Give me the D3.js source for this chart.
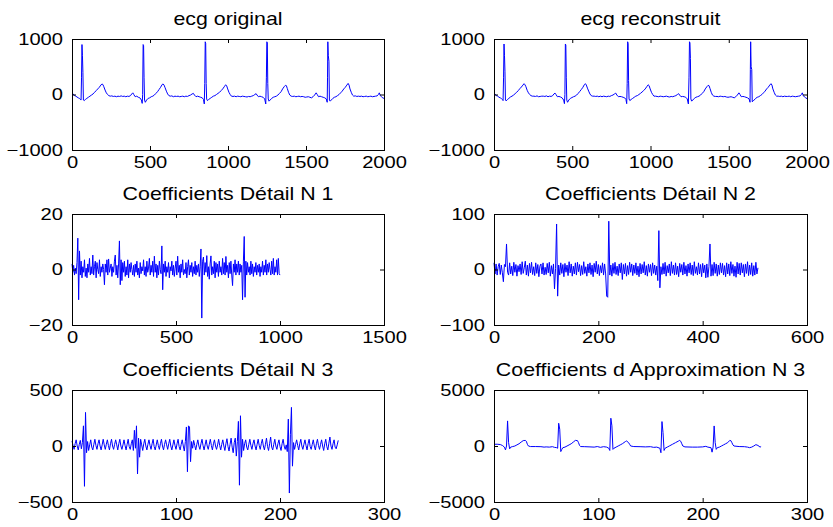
<!DOCTYPE html>
<html><head><meta charset="utf-8">
<script src="https://cdn.jsdelivr.net/npm/d3@7"></script>
<style>
body{margin:0;background:#fff}
svg{display:block}
text{font-family:"Liberation Sans",Arial,Helvetica,sans-serif;fill:#000}
</style>
</head><body>
<svg id="chart" width="833" height="527"></svg>
<script>
// ---------- DATA ----------
const titles = ["ecg original","ecg reconstruit","Coefficients Détail N 1","Coefficients Détail N 2","Coefficients Détail N 3","Coefficients d Approximation N 3"];

const ecgXTicks=[0,500,1000,1500,2000], ecgYTicks=[-1000,0,1000];
const d1XTicks=[0,500,1000,1500], d1YTicks=[-20,0,20];
const d2XTicks=[0,200,400,600], d2YTicks=[-100,0,100];
const d3XTicks=[0,100,200,300], d3YTicks=[-500,0,500];
const a3XTicks=[0,100,200,300], a3YTicks=[-5000,0,5000];

// ECG original [sample, value]
const ecgOriginal=[[0,20],[8,10],[16,-20],[24,-30],[32,-45],[40,-60],[48,-70],[54,-90],[58,-100],[61,300],[64,900],[67,700],[70,400],[73,-100],[78,-110],[86,-90],[95,-70],[105,-50],[115,-30],[125,-10],[135,10],[145,40],[155,70],[165,100],[175,130],[185,170],[192,190],[198,180],[204,140],[212,80],[220,30],[228,0],[236,-20],[245,-30],[255,-25],[265,-35],[275,-30],[285,-40],[295,-30],[305,-35],[315,-25],[325,-35],[335,-30],[345,-40],[355,-30],[365,-35],[375,-20],[383,10],[390,30],[396,0],[405,-40],[415,-30],[425,-50],[435,-60],[445,-100],[450,-160],[453,0],[456,900],[459,880],[462,300],[465,-100],[470,-140],[478,-100],[488,-70],[498,-60],[508,-40],[518,-30],[528,-10],[538,20],[548,50],[558,90],[568,130],[578,180],[584,190],[590,170],[597,120],[605,60],[613,10],[621,-20],[630,-30],[640,-25],[650,-40],[660,-30],[670,-35],[680,-30],[690,-40],[700,-35],[710,-30],[720,-40],[730,-30],[740,-35],[750,-20],[760,-10],[770,10],[778,20],[785,-10],[795,-40],[805,-30],[815,-40],[825,-50],[835,-60],[843,-90],[848,-170],[851,200],[854,950],[857,920],[860,200],[863,-80],[868,-110],[876,-90],[886,-70],[896,-50],[906,-30],[916,-20],[926,0],[936,20],[946,40],[956,70],[966,100],[976,140],[985,175],[991,160],[998,100],[1006,40],[1014,0],[1022,-30],[1032,-35],[1042,-30],[1052,-40],[1062,-30],[1072,-35],[1082,-40],[1092,-30],[1102,-35],[1112,-40],[1122,-45],[1132,-35],[1142,-40],[1152,-30],[1162,-20],[1172,0],[1180,15],[1186,-10],[1195,-40],[1205,-30],[1215,-40],[1225,-50],[1235,-80],[1242,-170],[1246,300],[1249,950],[1252,930],[1255,200],[1258,-80],[1263,-120],[1270,-100],[1280,-70],[1290,-50],[1300,-40],[1310,-30],[1320,-10],[1330,20],[1340,50],[1350,100],[1360,140],[1368,165],[1374,160],[1380,110],[1388,40],[1396,-10],[1405,-30],[1415,-35],[1425,-30],[1435,-40],[1445,-35],[1455,-30],[1465,-40],[1475,-35],[1485,-40],[1495,-50],[1505,-45],[1515,-40],[1525,-50],[1535,-60],[1545,-40],[1555,-10],[1565,30],[1572,0],[1580,-40],[1590,-30],[1600,-40],[1610,-50],[1620,-60],[1630,-80],[1636,-140],[1638,300],[1640,950],[1643,700],[1647,600],[1650,-100],[1655,-120],[1662,-100],[1672,-70],[1682,-50],[1692,-40],[1702,-20],[1712,0],[1722,30],[1732,60],[1742,100],[1752,130],[1762,170],[1770,200],[1776,170],[1782,100],[1790,40],[1798,-10],[1806,-30],[1816,-25],[1826,-35],[1836,-30],[1846,-35],[1856,-30],[1866,-40],[1876,-35],[1886,-30],[1896,-40],[1906,-35],[1916,-30],[1926,-40],[1936,-35],[1946,-30],[1956,-25],[1964,0],[1970,30],[1976,-20],[1984,-40],[1992,-60],[2000,-70]];

// ECG reconstructed [sample, value]
const ecgReconstruit=[[0,20],[8,5],[16,-25],[24,-30],[32,-50],[40,-60],[48,-75],[54,-90],[58,-110],[61,300],[64,910],[67,700],[70,420],[73,-100],[78,-115],[86,-90],[95,-70],[105,-45],[115,-30],[125,-10],[135,15],[145,40],[155,70],[165,105],[175,135],[185,170],[192,195],[198,175],[204,140],[212,75],[220,30],[228,0],[236,-20],[245,-30],[255,-30],[265,-35],[275,-25],[285,-40],[295,-35],[305,-30],[315,-30],[325,-35],[335,-25],[345,-40],[355,-30],[365,-35],[375,-20],[383,10],[390,25],[396,0],[405,-40],[415,-35],[425,-45],[435,-60],[445,-100],[450,-165],[453,0],[456,910],[459,890],[462,300],[465,-100],[470,-140],[478,-100],[488,-70],[498,-55],[508,-40],[518,-30],[528,-10],[538,20],[548,55],[558,90],[568,130],[578,180],[584,195],[590,170],[597,115],[605,60],[613,10],[621,-20],[630,-30],[640,-30],[650,-35],[660,-30],[670,-40],[680,-30],[690,-40],[700,-30],[710,-35],[720,-40],[730,-30],[740,-35],[750,-20],[760,-10],[770,10],[778,25],[785,-10],[795,-40],[805,-35],[815,-40],[825,-50],[835,-60],[843,-90],[848,-165],[851,200],[854,950],[857,920],[860,250],[863,-80],[868,-110],[876,-90],[886,-70],[896,-50],[906,-30],[916,-20],[926,0],[936,20],[946,45],[956,70],[966,100],[976,140],[985,175],[991,160],[998,100],[1006,40],[1014,0],[1022,-30],[1032,-30],[1042,-35],[1052,-40],[1062,-30],[1072,-35],[1082,-40],[1092,-35],[1102,-30],[1112,-40],[1122,-45],[1132,-35],[1142,-40],[1152,-30],[1162,-20],[1172,0],[1180,15],[1186,-10],[1195,-40],[1205,-35],[1215,-40],[1225,-50],[1235,-80],[1242,-170],[1246,300],[1249,950],[1252,930],[1255,650],[1258,-80],[1263,-120],[1270,-100],[1280,-70],[1290,-50],[1300,-40],[1310,-30],[1320,-10],[1330,20],[1340,50],[1350,100],[1360,140],[1368,165],[1374,160],[1380,110],[1388,40],[1396,-10],[1405,-30],[1415,-35],[1425,-35],[1435,-40],[1445,-30],[1455,-35],[1465,-40],[1475,-35],[1485,-45],[1495,-50],[1505,-45],[1515,-40],[1525,-50],[1535,-60],[1545,-40],[1555,-10],[1565,30],[1572,0],[1580,-40],[1590,-35],[1600,-40],[1610,-50],[1620,-60],[1630,-80],[1636,-140],[1638,450],[1640,950],[1643,500],[1647,450],[1650,-130],[1655,-120],[1662,-100],[1672,-70],[1682,-50],[1692,-40],[1702,-20],[1712,0],[1722,30],[1732,60],[1742,100],[1752,130],[1762,170],[1770,195],[1776,170],[1782,100],[1790,40],[1798,-10],[1806,-30],[1816,-30],[1826,-35],[1836,-30],[1846,-40],[1856,-30],[1866,-35],[1876,-35],[1886,-30],[1896,-40],[1906,-30],[1916,-35],[1926,-40],[1936,-35],[1946,-30],[1956,-25],[1964,0],[1970,30],[1976,-20],[1984,-45],[1992,-60],[2000,-75]];

// Detail N1 (one value every d1Step samples)
const d1Step=4;
const detail1=[2,-1,1.5,-2,0.5,-1.5,2.5,11.3,-10.9,6.7,-2,3,-3,1,-1,3.5,-2.5,0.5,-3,2,-1,4,-2,1,-1.5,
5.2,-2,1,3,-3,2.5,0,-1.5,3.5,-2.5,1,-1,2,0,-5.5,2,-1,3.5,-2,3.8,-1,0.5,2,-2.5,1,
-1,3,5.2,-2,1.5,-3,2,10.3,-5.5,3.5,-4,2.5,-1,3,-2.5,1,-2,3.5,-3,2,-1,2.5,0,-2,1.5,
-2.5,2,-1,3,-2,0.5,-3,2.5,-1.5,1,-0.5,3.5,-2,1,-2.5,3,-1,0.5,4,-2,1.5,-1,3,-2.5,4.8,
-1,2,-3,1.5,-2,3,0,-1.5,8.5,-7.3,2,-1,3,-2.5,1,-1,2.5,-3,1,-0.5,3,-2,1.5,-2.5,0.5,
3,-2,4.8,-1,1.5,-3,2,-1,3.5,-2,0,-1.5,2.5,-3,1,3.5,-2,1.5,-1,2.5,-2.5,1,-1.5,3,-2,
1.5,-1,2,-2.5,1,7.4,-17.5,3,4.5,-2,2.5,-1,5,-2.5,1,-3.5,2,4.9,-2,1,-1.5,3,-3,2.5,-1,
2,-2.5,3,-1,1,-2,4,-1.5,2.5,-2,4.7,-1,1.5,-3,2.5,-1.5,3,-2,-5.8,2,-1,3.5,-2,2,-1,
3,-2,2,-1,1.5,-10.9,3,11.9,-10,3,-2,2.5,-1,1,-2,3,-1.5,2,-2.5,1,-1,2.5,-2,1.5,-1,
2,-2.5,1,-1,3,-2,1.5,-1,3.5,-2,2,-1,2.5,0,-2,3,-1.5,4,-2,1,-1,3.5,-2,4,-1.5,
-2];

// Detail N2 (one value every d2Step samples)
const d2Step=2;
const detail2=[12,-8,10,-10,5,11,-9,8,-6,-22,9,5,46,-5,-10,12,-8,6,-11,13,-5,9,-12,7,-4,
10,-9,14,-7,3,15,-10,8,-12,11,-6,13,-9,5,-11,12,-7,9,-13,6,10,-8,12,-10,4,
-9,11,-6,13,-12,7,-8,10,-35,2,82,-48,8,-10,12,-7,9,-13,11,-5,8,-11,14,-6,10,
-12,6,-8,12,-10,13,-4,9,-11,7,-9,14,-7,5,-12,10,-6,12,-9,8,-13,11,-5,15,-8,
9,-11,7,-6,12,-10,10,-8,-48,-50,87,-10,8,-12,11,-7,13,-9,6,-11,10,-6,12,-18,9,
-8,11,-12,7,-9,13,-5,10,-11,8,-7,12,-10,6,-13,11,-8,9,-6,14,-10,7,-12,10,-5,
9,-11,12,-7,8,-10,6,-20,70,-33,5,-9,11,-8,13,-12,7,-6,10,-11,14,-7,8,-10,12,
-9,6,-13,11,-5,9,-10,13,-8,7,-12,10,-6,12,-9,8,-11,14,-7,5,-10,12,-8,9,-13,
11,-6,8,-15,10,-14,5,46,-12,9,-11,13,-7,10,-12,8,-9,12,-6,11,-10,7,-13,12,-8,
10,-11,14,-7,9,-12,6,-14,13,-8,11,-10,12,-6,9,-13,10,-7,14,-11,8,-9,12,-12,7,
-10,13,-8,3];

// Detail N3 (one value per sample)
const detail3=[45,5,-30,20,55,0,-35,15,50,-25,
30,180,-360,300,-60,40,-40,10,55,-10,
-35,15,60,5,-30,20,55,0,-35,10,
60,10,-30,15,55,5,-35,20,60,0,
-30,15,55,10,-35,20,60,0,-30,10,
55,5,-35,15,60,-5,-30,20,55,-40,
140,-20,180,-250,70,-100,60,10,-40,20,
60,0,-35,15,55,5,-30,20,60,-5,
-35,10,55,5,-30,20,60,0,-35,15,
55,10,-30,20,60,0,-35,10,55,5,
-30,20,60,-5,-35,15,55,0,-45,40,
170,-230,180,170,-140,40,-20,50,5,-35,
15,55,0,-30,20,60,5,-35,10,55,
0,-30,15,60,5,-35,20,55,0,-30,
10,60,5,-35,15,55,0,-40,20,65,
-5,-45,15,70,-10,-60,30,70,-90,40,
220,-350,270,-100,60,-40,20,55,-10,-35,
15,60,5,-30,20,55,0,-35,15,60,
5,-30,20,60,0,-35,15,70,-5,-40,
20,80,-10,-35,15,60,0,-30,20,55,
-5,-40,20,60,0,-30,10,-50,240,-420,
100,345,-180,30,-30,15,55,5,-35,20,
60,0,-30,15,55,5,-35,20,60,-5,
-30,15,55,0,-35,20,60,5,-30,15,
55,0,-40,20,60,-5,-35,25,80,0,
-30,20,55,-10,-25,10,50];

// Approximation N3 [sample, value]
const approx3=[[0,150],[3,160],[6,130],[8,50],[10,-100],[11,-350],[12,0],[13,2240],[14,300],[15,-250],[16,-100],[18,-50],[20,0],[22,100],[24,200],[26,350],[28,480],[30,500],[31,420],[32,150],[33,0],[35,-50],[40,-50],[45,-60],[48,-100],[50,-80],[53,-100],[56,-60],[58,-120],[60,-150],[61,-200],[62,2030],[63,1500],[64,-500],[65,-300],[66,-150],[68,-100],[70,0],[72,100],[74,200],[76,350],[78,500],[80,480],[81,300],[82,50],[83,-50],[87,-60],[92,-80],[96,-100],[99,-50],[102,-120],[105,-60],[108,-100],[110,-200],[111,-400],[112,2480],[113,1800],[114,-300],[115,-200],[117,-100],[119,0],[121,100],[123,200],[126,400],[127,450],[129,300],[130,150],[131,0],[134,-50],[140,-60],[145,-80],[150,-60],[153,-120],[156,-100],[159,-200],[160,-600],[161,2180],[162,1200],[163,-400],[164,-200],[166,-100],[168,0],[171,150],[174,300],[177,450],[178,500],[179,420],[180,200],[181,0],[183,-80],[190,-100],[195,-100],[200,-80],[203,-30],[205,-100],[208,-150],[209,-550],[210,-100],[211,1790],[212,300],[213,-300],[214,-150],[216,-100],[218,0],[220,100],[222,200],[224,300],[226,500],[227,480],[228,300],[229,100],[230,0],[235,-50],[240,-60],[243,-100],[245,-150],[247,-100],[249,0],[251,120],[253,50],[255,-100],[256,-50]];

// ---------- LAYOUT ----------
const W=833,H=527;
const cols=[[72,384],[494,807]];
const rows=[[39,150],[214,325],[390,502]];
const STRETCH=1.22;

const panels=[
  {title:titles[0],data:ecgOriginal,xt:ecgXTicks,yt:ecgYTicks,c:0,r:0},
  {title:titles[1],data:ecgReconstruit,xt:ecgXTicks,yt:ecgYTicks,c:1,r:0},
  {title:titles[2],data:detail1.map((v,i)=>[i*d1Step,v]),xt:d1XTicks,yt:d1YTicks,c:0,r:1},
  {title:titles[3],data:detail2.map((v,i)=>[i*d2Step,v]),xt:d2XTicks,yt:d2YTicks,c:1,r:1},
  {title:titles[4],data:detail3.map((v,i)=>[i,v]),xt:d3XTicks,yt:d3YTicks,c:0,r:2},
  {title:titles[5],data:approx3,xt:a3XTicks,yt:a3YTicks,c:1,r:2}
];

const svg=d3.select("#chart");
svg.append("rect").attr("width",W).attr("height",H).attr("fill","#fff");

function stretchText(sel){
  sel.each(function(){
    const t=d3.select(this);
    const x=+t.attr("x")||0, y=+t.attr("y")||0;
    t.attr("x",null).attr("y",null).attr("transform",`translate(${x},${y}) scale(${STRETCH},1)`);
  });
}

panels.forEach(p=>{
  const [x0,x1]=cols[p.c], [y0,y1]=rows[p.r];
  const x=d3.scaleLinear().domain([p.xt[0],p.xt[p.xt.length-1]]).range([x0,x1]);
  const y=d3.scaleLinear().domain([p.yt[0],p.yt[p.yt.length-1]]).range([y1,y0]);
  const g=svg.append("g");

  // data line
  g.append("path").datum(p.data)
    .attr("fill","none").attr("stroke","#0000ff").attr("stroke-width",1)
    .attr("stroke-linejoin","miter")
    .attr("d",d3.line().x(d=>x(d[0])).y(d=>y(d[1])));

  const fs="16.5px";
  // bottom axis
  const ax=g.append("g").attr("transform",`translate(0,${y1})`)
    .call(d3.axisBottom(x).tickValues(p.xt).tickSize(-4).tickSizeOuter(0).tickPadding(6.3).tickFormat(d3.format("d")));
  // left axis
  const ay=g.append("g").attr("transform",`translate(${x0},0)`)
    .call(d3.axisLeft(y).tickValues(p.yt).tickSize(-4).tickSizeOuter(0).tickPadding(9).tickFormat(d3.format("d")));
  // top & right ticks (no labels)
  const at=g.append("g").attr("transform",`translate(0,${y0})`)
    .call(d3.axisTop(x).tickValues(p.xt).tickSize(-4).tickSizeOuter(0).tickFormat(""));
  const ar=g.append("g").attr("transform",`translate(${x1},0)`)
    .call(d3.axisRight(y).tickValues(p.yt).tickSize(-4).tickSizeOuter(0).tickFormat(""));
  [ax,ay,at,ar].forEach(a=>{
    a.select(".domain").remove();
    a.selectAll("line").attr("stroke","#000");
    a.selectAll("text").attr("font-size",fs).attr("fill","#000")
      .attr("font-family",'"Liberation Sans",Arial,Helvetica,sans-serif');
  });
  stretchText(ax.selectAll("text"));
  stretchText(ay.selectAll("text"));
  ax.selectAll("text").text(d=>String(d).replace("-","-"));

  // box
  g.append("rect").attr("x",x0+0.5).attr("y",y0+0.5)
    .attr("width",x1-x0).attr("height",y1-y0)
    .attr("fill","none").attr("stroke","#000").attr("stroke-width",1);

  // title
  g.append("text").attr("text-anchor","middle")
    .attr("font-size","17.5px")
    .attr("transform",`translate(${(x0+x1)/2},${y0-14}) scale(${STRETCH},1)`)
    .text(p.title);
});
</script>
</body></html>
